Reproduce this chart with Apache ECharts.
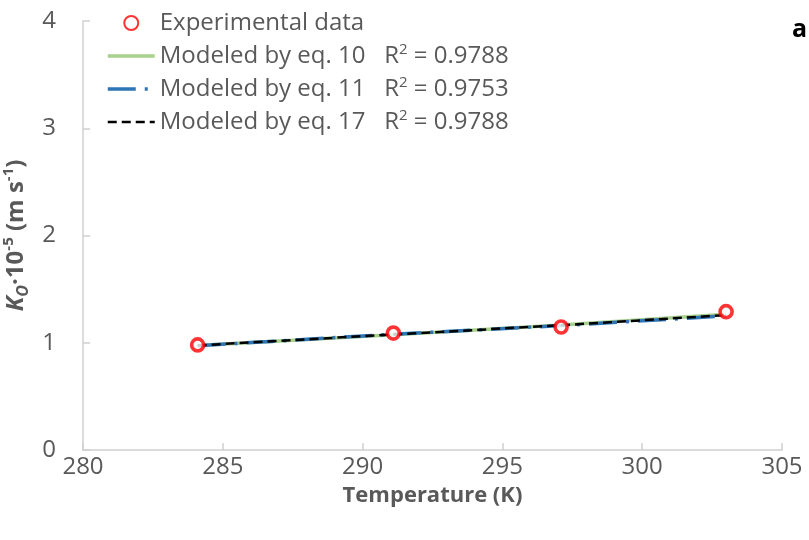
<!DOCTYPE html>
<html><head><meta charset="utf-8">
<script src="https://cdn.jsdelivr.net/npm/echarts@6/dist/echarts.min.js"></script>
<style>html,body{margin:0;padding:0;background:#fff}#c{width:809px;height:540px}</style>
</head><body><div id="c"></div>
<script>
const temperatures = [284.1, 291.1, 297.1, 303.0];
const experimental = [0.98, 1.09, 1.147, 1.29];
const modelEq10 = [0.975, 1.075, 1.165, 1.265];
const modelEq11 = [0.972, 1.08, 1.16, 1.25];
const modelEq17 = [0.975, 1.077, 1.163, 1.258];
const seriesNames = ['Experimental data', 'Modeled by eq. 10', 'Modeled by eq. 11', 'Modeled by eq. 17'];
const rSquared = [null, '0.9788', '0.9753', '0.9788'];
const xRange = { min: 280, max: 305, interval: 5 };
const yRange = { min: 0, max: 4, interval: 1 };

const FONT = 'Open Sans';
const GREY = '#595959';
const AXIS = '#d0d0d0';
const GREEN = '#a9d18e', BLUE = '#2e75b6', BLACK = '#000000';

function pairs(ys) { return temperatures.map((t, i) => [t, ys[i]]); }

const legendData = [
  { name: seriesNames[0] },
  { name: seriesNames[1], itemStyle: { opacity: 0 }, lineStyle: { width: 3.5, color: GREEN } },
  { name: seriesNames[2], itemStyle: { opacity: 0 }, lineStyle: { width: 3.5, color: BLUE, type: [28, 9, 3, 9] } },
  { name: seriesNames[3], itemStyle: { opacity: 0 }, lineStyle: { width: 2.5, color: BLACK, type: [9, 5] } }
];

const chart = echarts.init(document.getElementById('c'), null, { renderer: 'canvas' });
chart.setOption({
  animation: false,
  backgroundColor: '#fff',
  textStyle: { fontFamily: FONT },
  grid: { left: 83, right: 27, top: 21, bottom: 90, containLabel: false, outerBoundsMode: 'none' },
  legend: {
    orient: 'vertical',
    left: 101,
    top: 6,
    itemWidth: 47,
    itemHeight: 14,
    itemGap: 7,
    data: legendData,
    textStyle: {
      fontFamily: FONT, fontSize: 24, color: GREY,
      rich: {
        t: { fontFamily: FONT, fontSize: 24, color: GREY, lineHeight: 28 },
        sup: { fontFamily: FONT, fontSize: 15, color: GREY, verticalAlign: 'top', lineHeight: 28 }
      }
    },
    formatter: function (name) {
      const i = seriesNames.indexOf(name);
      if (rSquared[i] == null) return '{t|' + name + '}';
      return '{t|' + name + '   R}{sup|2}{t| = ' + rSquared[i] + '}';
    }
  },
  xAxis: {
    type: 'value',
    min: xRange.min, max: xRange.max, interval: xRange.interval,
    name: 'Temperature (K)',
    nameLocation: 'middle',
    nameGap: 35,
    nameTextStyle: { fontFamily: FONT, fontSize: 22, fontWeight: 'bold', color: GREY },
    axisLine: { lineStyle: { color: AXIS, width: 1.5 } },
    axisTick: { inside: true, length: 7, lineStyle: { color: AXIS, width: 1.5 } },
    axisLabel: { fontFamily: FONT, fontSize: 24, color: GREY, margin: 5 },
    splitLine: { show: false }
  },
  yAxis: {
    type: 'value',
    min: yRange.min, max: yRange.max, interval: yRange.interval,
    name: '{ki|K}{sub|O}{b|·10}{sup|-5}{b| (m s}{sup|-1}{b|)}',
    nameLocation: 'middle',
    nameGap: 38,
    nameRotate: 90,
    nameTextStyle: {
      fontFamily: FONT, fontSize: 24, fontWeight: 'bold', color: GREY,
      rich: {
        ki: { fontFamily: FONT, fontSize: 24, fontWeight: 'bold', fontStyle: 'italic', color: GREY, lineHeight: 30 },
        sub: { fontFamily: FONT, fontSize: 16, fontWeight: 'bold', fontStyle: 'italic', color: GREY, verticalAlign: 'bottom', lineHeight: 30 },
        b: { fontFamily: FONT, fontSize: 24, fontWeight: 'bold', color: GREY, lineHeight: 30 },
        sup: { fontFamily: FONT, fontSize: 15, fontWeight: 'bold', color: GREY, verticalAlign: 'top', lineHeight: 30 }
      }
    },
    axisLine: { show: true, lineStyle: { color: AXIS, width: 1.5 } },
    axisTick: { show: true, inside: true, length: 7, lineStyle: { color: AXIS, width: 1.5 } },
    axisLabel: { fontFamily: FONT, fontSize: 24, color: GREY, margin: 27 },
    splitLine: { show: false }
  },
  graphic: [{
    type: 'text', left: 792, top: 17,
    style: { text: 'a', fontFamily: FONT, fontSize: 25, fontWeight: 'bold', fill: '#000' }
  }],
  series: [
    {
      name: seriesNames[0], type: 'scatter', data: pairs(experimental), z: 10,
      symbol: 'circle', symbolSize: 12,
      itemStyle: { color: '#ffffff', borderColor: '#ff0000', borderWidth: 3.6 }
    },
    {
      name: seriesNames[1], type: 'line', data: pairs(modelEq10), z: 2,
      symbol: 'none', showSymbol: false,
      lineStyle: { color: GREEN, width: 3.5 },
      itemStyle: { color: GREEN }
    },
    {
      name: seriesNames[2], type: 'line', data: pairs(modelEq11), z: 3,
      symbol: 'none', showSymbol: false,
      lineStyle: { color: BLUE, width: 3.5, type: [28, 9, 3, 9] },
      itemStyle: { color: BLUE }
    },
    {
      name: seriesNames[3], type: 'line', data: pairs(modelEq17), z: 4,
      symbol: 'none', showSymbol: false,
      lineStyle: { color: BLACK, width: 2.5, type: [9, 5] },
      itemStyle: { color: BLACK }
    }
  ]
});
</script>
</body></html>
